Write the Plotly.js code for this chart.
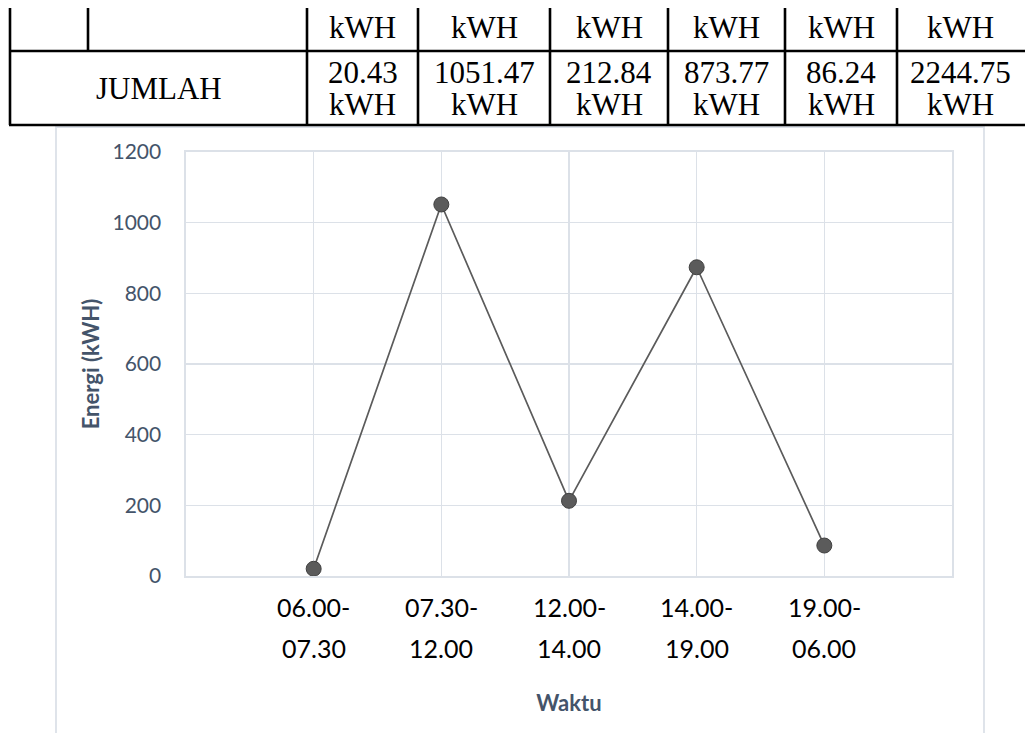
<!DOCTYPE html>
<html>
<head>
<meta charset="utf-8">
<script src="https://cdn.plot.ly/plotly-3.0.1.min.js"></script>
<style>
  html, body { margin: 0; padding: 0; background: #fff; }
  #chart { width: 1025px; height: 733px; }
</style>
</head>
<body>
<div id="chart"></div>
<script>
// ---- data ----
const categories = ['06.00-07.30', '07.30-12.00', '12.00-14.00', '14.00-19.00', '19.00-06.00'];
const energy = [20.43, 1051.47, 212.84, 873.77, 86.24];
const total = 2244.75;
const unit = 'kWH';
const rowLabel = 'JUMLAH';
const yTitle = 'Energi (kWH)';
const xTitle = 'Waktu';

// ---- layout geometry (pixels) ----
const W = 1025, H = 733;
const L = 186, R = 952, T = 152, B = 576;
const px = x => (x - L) / (R - L);
const py = y => (B - y) / (B - T);

const gridColor = '#dce1e8';
const textBlue = '#44546a';
const shapes = [];
const annotations = [];

// chart frame
shapes.push({ type: 'rect', xref: 'paper', yref: 'paper', layer: 'below',
  x0: px(56), x1: px(984), y0: py(127), y1: py(760),
  line: { color: '#dce1e8', width: 1.8 }, fillcolor: 'rgba(0,0,0,0)' });

// table lines
const tl = { color: '#000', width: 2.6 };
function hline(y, x0, x1) { shapes.push({ type: 'line', xref: 'paper', yref: 'paper', x0: px(x0), x1: px(x1), y0: py(y), y1: py(y), line: tl }); }
function vline(x, y0, y1) { shapes.push({ type: 'line', xref: 'paper', yref: 'paper', x0: px(x), x1: px(x), y0: py(y0), y1: py(y1), line: tl }); }
hline(51, 9, 1030);
hline(125, 9, 1030);
vline(10, 8, 125);
vline(88, 8, 51);
const colEdges = [307, 418, 550, 668, 785, 897, 1023];
for (let i = 0; i < colEdges.length - 1; i++) vline(colEdges[i], 8, 125);

const tFont = { family: 'Liberation Serif, Times New Roman, serif', size: 31, color: '#000' };
function tText(text, x, y) {
  annotations.push({ text: text, xref: 'paper', yref: 'paper', x: px(x), y: py(y),
    xanchor: 'center', yanchor: 'middle', showarrow: false, font: tFont });
}
const colVals = energy.concat([total]);
for (let i = 0; i < colVals.length; i++) {
  const cx = (colEdges[i] + colEdges[i + 1]) / 2;
  tText(unit, cx, 27);
  tText(colVals[i].toFixed(2), cx, 73);
  tText(unit, cx, 105);
}
tText(rowLabel, (10 + 307) / 2, 89);

// x category labels (two lines)
const xIdx = categories.map((_, i) => i);
categories.forEach((c, i) => {
  const parts = c.split('-');
  annotations.push({ text: parts[0] + '-', xref: 'x', yref: 'paper', x: i, y: py(607),
    xanchor: 'center', yanchor: 'middle', showarrow: false,
    font: { family: 'Lato, sans-serif', size: 25, color: '#000' } });
  annotations.push({ text: parts[1], xref: 'x', yref: 'paper', x: i, y: py(648),
    xanchor: 'center', yanchor: 'middle', showarrow: false,
    font: { family: 'Lato, sans-serif', size: 25, color: '#000' } });
});

const trace = {
  type: 'scatter', mode: 'lines+markers',
  x: xIdx, y: energy,
  line: { color: '#5b5b5b', width: 1.7 },
  marker: { size: 15, color: '#5b5b5b', line: { color: '#404040', width: 1 } },
  hoverinfo: 'skip', cliponaxis: false
};

const layout = {
  width: W, height: H,
  margin: { l: L, r: W - R, t: T, b: H - B, pad: 0 },
  paper_bgcolor: '#fff', plot_bgcolor: '#fff',
  showlegend: false,
  font: { family: 'Lato, sans-serif' },
  xaxis: {
    range: [-1, 5], tickmode: 'array', tickvals: [-1, 0, 1, 2, 3, 4, 5],
    showticklabels: false, ticks: '',
    showgrid: true, gridcolor: gridColor, gridwidth: 1.6,
    showline: true, mirror: true, linecolor: gridColor, linewidth: 1.6,
    zeroline: false, fixedrange: true,
    title: { text: xTitle, standoff: 119, font: { family: 'Lato, sans-serif', size: 22, color: textBlue, weight: 'bold' } }
  },
  yaxis: {
    range: [0, 1200], tickmode: 'linear', tick0: 0, dtick: 200,
    ticks: 'outside', ticklen: 19, tickcolor: 'rgba(0,0,0,0)',
    tickfont: { family: 'Lato, sans-serif', size: 21, color: textBlue },
    showgrid: true, gridcolor: gridColor, gridwidth: 1.6,
    showline: true, mirror: true, linecolor: gridColor, linewidth: 1.6,
    zeroline: false, fixedrange: true,
    title: { text: yTitle, standoff: 7, font: { family: 'Lato, sans-serif', size: 22, color: textBlue, weight: 'bold' } }
  },
  shapes: shapes,
  annotations: annotations
};

Plotly.newPlot('chart', [trace], layout, { displayModeBar: false, staticPlot: true });
</script>
</body>
</html>
